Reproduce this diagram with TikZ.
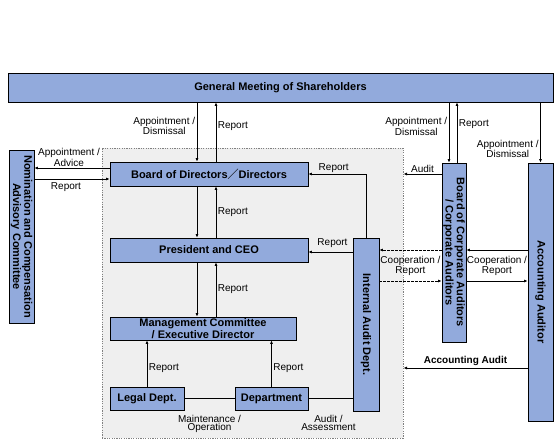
\documentclass[tikz,border=0pt]{standalone}
\usepackage{fontspec}
\setmainfont{Liberation Sans}
\newfontfamily\cjk{Noto Sans CJK JP}
\usetikzlibrary{arrows.meta}

\definecolor{boxblue}{RGB}{146,170,220}
\definecolor{areagray}{RGB}{239,239,239}
\definecolor{dotgray}{RGB}{128,128,128}

\tikzset{
    unit/.style={draw, fill=boxblue, line width=0.8pt, inner sep=0pt, align=center,
        font=\fontsize{11}{9.5}\selectfont\bfseries},
    lab/.style={inner sep=1.5pt, align=center, font=\fontsize{10}{8.8}\selectfont},
    link/.style={line width=0.8pt, -{Latex[length=3.5pt,width=3pt]}},
    dashlink/.style={link, dash pattern=on 2.5pt off 1.5pt},
}

\begin{document}
\begin{tikzpicture}[x=1pt, y=-1pt]
    \useasboundingbox (0,0) rectangle (560,447);

    % Draw the shaded area of the company
    \node[draw=dotgray, fill=areagray, line width=1pt, dash pattern=on 1.2pt off 1.2pt,
        minimum width=301pt, minimum height=290pt, inner sep=0pt] (grp) at (252.5,293) {};

    % Draw the boxes
    \node[unit, minimum width=545pt, minimum height=29pt] (gm) at (280.5,87.5) {General Meeting of Shareholders};
    \node[unit, rotate=-90, minimum width=173pt, minimum height=25pt] (nom) at (21.5,236.5) {Nomination and Compensation\\Advisory Committee};
    \node[unit, minimum width=198pt, minimum height=24pt] (bod) at (209,174) {Board of Directors{\cjk ／}Directors};
    \node[unit, minimum width=198pt, minimum height=24pt] (ceo) at (209,250) {President and CEO};
    \node[unit, minimum width=186pt, minimum height=23pt] (mc) at (203,328.5) {Management Committee\\/ Executive Director};
    \node[unit, minimum width=74pt, minimum height=23pt] (legal) at (147,398.5) {Legal Dept.};
    \node[unit, minimum width=73pt, minimum height=23pt] (dept) at (271.5,398.5) {Department};
    \node[unit, rotate=-90, minimum width=173pt, minimum height=26pt] (iad) at (366,324.5) {Internal Audit Dept.};
    \node[unit, rotate=-90, minimum width=179pt, minimum height=24pt] (bca) at (454,252.5) {Board of Corporate Auditors\\/ Corporate Auditors};
    \node[unit, rotate=-90, minimum width=258pt, minimum height=25pt] (aa) at (540.5,292) {Accounting Auditor};

    % Helper points for the parallel lines
    \coordinate (xdown) at ([xshift=-12pt]bod.north);
    \coordinate (xup) at ([xshift=7pt]bod.north);
    \coordinate (bdown) at ([xshift=-5pt]bca.west);
    \coordinate (bup) at ([xshift=3pt]bca.west);
    \coordinate (yadv) at ([yshift=6pt]bod.west);
    \coordinate (yrepn) at ([yshift=-5pt]bod.west);
    \coordinate (yrep) at ([yshift=-2pt]ceo.east);
    \coordinate (ycoop) at (0,250);
    \coordinate (yrepb) at (0,281);
    \coordinate (yacc) at (0,368);

    % Shareholders and the board
    \draw[link] (gm.south -| xdown) -- (xdown) node[lab, left, pos=0.4] (lappb) {Appointment /\\Dismissal};
    \draw[link] (xup) -- (gm.south -| xup) node[lab, right, pos=0.6] (lrepb) {Report};

    % Nomination committee
    \draw[link] (yadv) -- (nom.north |- yadv) node[lab, midway, above, xshift=-3pt] (ladv) {Appointment /\\Advice};
    \draw[link] (nom.north |- yrepn) -- (yrepn) node[lab, midway, below=2pt, xshift=-6pt] (lrepn) {Report};

    % Down the line of command
    \draw[link] (bod.south -| xdown) -- (ceo.north -| xdown);
    \draw[link] (ceo.north -| xup) -- (bod.south -| xup) node[lab, right, midway] (lrepc) {Report};
    \draw[link] (ceo.south -| xdown) -- (mc.north -| xdown);
    \draw[link] (mc.north -| xup) -- (ceo.south -| xup) node[lab, right, midway] (lrepm) {Report};
    \draw[link] (legal.north) -- (legal.north |- mc.south) node[lab, right, pos=0.4] (lrepl) {Report};
    \draw[link] (dept.north) -- (dept.north |- mc.south) node[lab, right, pos=0.4] (lrepd) {Report};
    \draw[line width=0.8pt] (legal.east) -- (dept.west) node[lab, midway, yshift=-25.5pt] (lmaint) {Maintenance /\\Operation};
    \draw[line width=0.8pt] (dept.east) -- (dept.east -| iad.south) node[lab, midway, yshift=-24.5pt, xshift=-2pt] (lassess) {Audit /\\Assessment};

    % Internal audit
    \draw[link] (iad.west) |- (bod.east) node[lab, pos=0.78, above] (lrepi) {Report};
    \draw[link] (iad.south |- yrep) -- (yrep) node[lab, midway, above=3pt, xshift=2pt] (lrepj) {Report};

    % Corporate auditors
    \draw[link] (gm.south -| bdown) -- (bdown) node[lab, left, pos=0.4] (lappa) {Appointment /\\Dismissal};
    \draw[link] (bup) -- (gm.south -| bup) node[lab, right, pos=0.64] (lrepa) {Report};
    \draw[link] (bca.south |- bod.east) -- (grp.east |- bod.east) node[lab, midway, above] (laudit) {Audit};
    \draw[dashlink] (bca.south |- ycoop) -- (iad.north |- ycoop);
    \draw[dashlink] (iad.north |- yrepb) -- (bca.south |- yrepb) node[lab, midway, yshift=15.5pt] (lcoopi) {Cooperation /\\Report};

    % Accounting auditor
    \draw[link] (gm.south -| aa.west) -- (aa.west) node[lab, left, pos=0.77] (lappc) {Appointment /\\Dismissal};
    \draw[link] (aa.south |- ycoop) -- (bca.north |- ycoop);
    \draw[link] (bca.north |- yrepb) -- (aa.south |- yrepb) node[lab, midway, yshift=15.5pt] (lcoopa) {Cooperation /\\Report};
    \draw[link] (aa.south |- yacc) -- (grp.east |- yacc) node[lab, midway, above, font=\fontsize{10}{10}\selectfont\bfseries] (lacc) {Accounting Audit};

\end{tikzpicture}
\end{document}
